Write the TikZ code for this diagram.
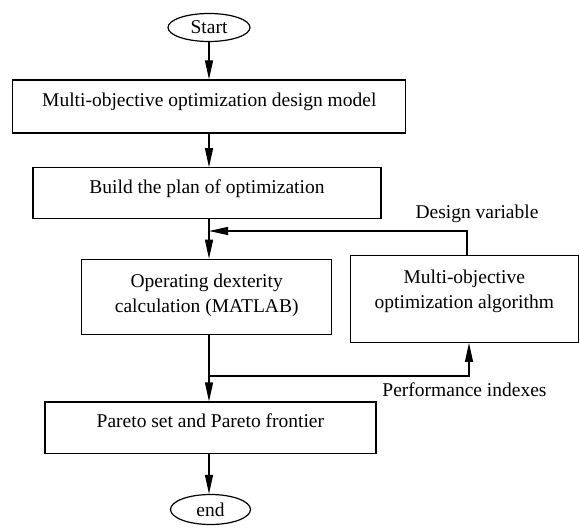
\documentclass[tikz,border=0pt]{standalone}
\usepackage{fontspec}
\setmainfont{Liberation Serif}
\usetikzlibrary{arrows.meta,shapes.geometric}
\begin{document}
\begin{tikzpicture}[x=1pt,y=-1pt,line width=1.2pt,
  font=\fontsize{19.5}{25}\selectfont,
  box/.style={draw,rectangle,inner sep=0pt,text height=12pt,text depth=12pt},
  mbox/.style={draw,rectangle,inner sep=0pt,align=center},
  term/.style={draw,ellipse,inner sep=0pt},
  arr/.style={-{Triangle[length=19pt,width=8pt]}},
  lbl/.style={inner sep=0pt}]
\useasboundingbox (0,0) rectangle (580,527);
\node[term,minimum width=82pt,minimum height=28pt] (start) at (209,27.5) {Start};
\node[box,minimum width=393pt,minimum height=53pt] (b1) at (209.3,106.5) {Multi-objective optimization design model};
\node[box,minimum width=348pt,minimum height=51pt] (b2) at (207,193.3) {Build the plan of optimization};
\node[mbox,text depth=6.5pt,minimum width=250pt,minimum height=75pt] (b3) at (206.7,296.8) {Operating dexterity\\calculation (MATLAB)};
\node[mbox,text depth=19.5pt,minimum width=228pt,minimum height=86.6pt] (b4) at (464.3,299) {Multi-objective\\optimization algorithm};
\node[box,minimum width=331pt,minimum height=51.5pt] (b5) at (210.4,427.8) {Pareto set and Pareto frontier};
\node[term,minimum width=80pt,minimum height=30pt] (end) at (210.5,509.5) {end};
\node[lbl] (dv) at (477,214) {Design variable};
\node[lbl] (pl) at (464.5,390) {Performance indexes};
\coordinate (fb) at (467,231);
\coordinate (pi) at (469,376);
\draw[arr] (start.south) -- (start.south |- b1.north);
\draw[arr] (b1.south -| start) -- (start |- b2.north);
\draw[arr] (b2.south -| start) -- (start |- b3.north);
\draw[arr] (b4.north -| fb) -- (fb) -- (start |- fb);
\draw[arr] (b3.south -| start) -- (start |- b5.north);
\draw[arr] (start |- pi) -- (pi) -- (pi |- b4.south);
\draw[arr] (b5.south -| start) -- (start |- end.north);
\end{tikzpicture}
\end{document}
